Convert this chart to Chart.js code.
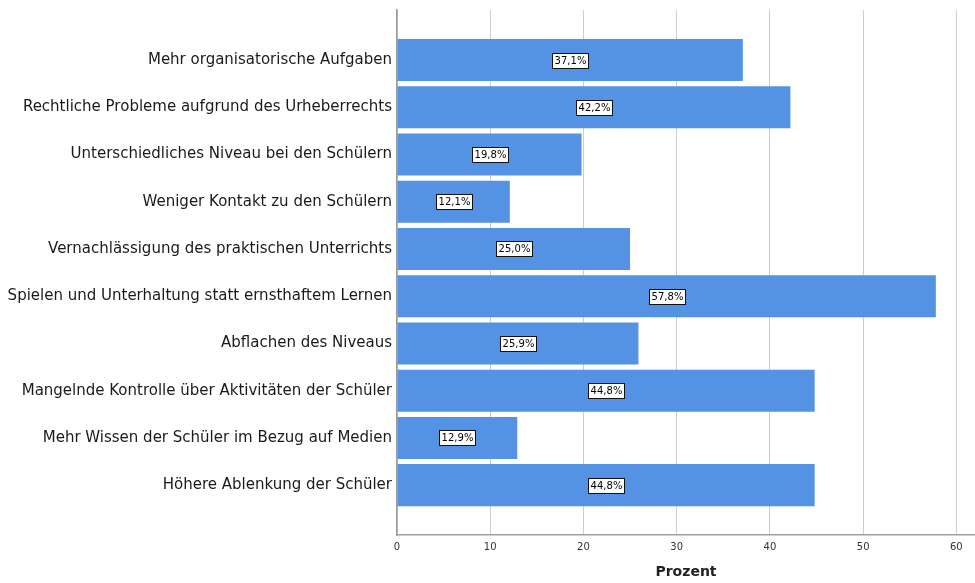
<!DOCTYPE html>
<html>
<head>
<meta charset="utf-8">
<script src="https://cdn.jsdelivr.net/npm/chart.js@4/dist/chart.umd.min.js"></script>
<style>
  html, body { margin: 0; padding: 0; background: #fff; }
  #wrap { width: 975px; height: 583px; }
</style>
</head>
<body>
<div id="wrap"><canvas id="grafik"></canvas></div>
<script>
// Daten aus der Vorlage
const kategorien = [
    'Mehr organisatorische Aufgaben',
    'Rechtliche Probleme aufgrund des Urheberrechts',
    'Unterschiedliches Niveau bei den Schülern',
    'Weniger Kontakt zu den Schülern',
    'Vernachlässigung des praktischen Unterrichts',
    'Spielen und Unterhaltung statt ernsthaftem Lernen',
    'Abflachen des Niveaus',
    'Mangelnde Kontrolle über Aktivitäten der Schüler',
    'Mehr Wissen der Schüler im Bezug auf Medien',
    'Höhere Ablenkung der Schüler'
];
const prozent = [37.1, 42.2, 19.8, 12.1, 25.0, 57.8, 25.9, 44.8, 12.9, 44.8];
const xTicks = [0, 10, 20, 30, 40, 50, 60];

const BALKEN_FARBE = '#5493e3';

// Wertebeschriftung: weisses Kästchen mit schwarzem Rahmen in der Balkenmitte
const wertLabels = {
    id: 'wertLabels',
    afterDatasetsDraw(chart) {
        const ctx = chart.ctx;
        const meta = chart.getDatasetMeta(0);
        ctx.save();
        ctx.font = '10px "DejaVu Sans"';
        ctx.textAlign = 'center';
        ctx.textBaseline = 'middle';
        meta.data.forEach((bar, i) => {
            const { x, y, base } = bar.getProps(['x', 'y', 'base'], true);
            const cx = (x + base) / 2;
            const txt = prozent[i].toFixed(1).replace('.', ',') + '%';
            const w = Math.round(ctx.measureText(txt).width + 4);
            const h = 15;
            const left = Math.round(cx - w / 2);
            const top = Math.round(y - h / 2);
            ctx.fillStyle = '#fff';
            ctx.fillRect(left, top, w, h);
            ctx.strokeStyle = '#111';
            ctx.lineWidth = 1;
            ctx.strokeRect(left + 0.5, top + 0.5, w, h);
            ctx.fillStyle = '#000';
            ctx.fillText(txt, left + w / 2 + 0.5, top + h / 2 + 1);
        });
        ctx.restore();
    }
};

const ctx = document.getElementById('grafik').getContext('2d');
new Chart(ctx, {
    type: 'bar',
    data: {
        datasets: [{
            data: prozent.map((v, i) => ({ x: v, y: i })),
            backgroundColor: BALKEN_FARBE,
            borderWidth: 0,
            categoryPercentage: 1,
            barPercentage: 0.89
        }]
    },
    options: {
        indexAxis: 'y',
        responsive: true,
        maintainAspectRatio: false,
        animation: false,
        layout: {
            padding: { top: 10, left: 0, right: 0, bottom: 0 }
        },
        plugins: {
            legend: { display: false },
            tooltip: { enabled: false }
        },
        scales: {
            x: {
                type: 'linear',
                min: 0,
                max: 62,
                afterBuildTicks: (s) => {
                    s.ticks = xTicks.map(v => ({ value: v }));
                },
                afterFit: (s) => {
                    s.paddingLeft = 0;
                    s.paddingRight = 0;
                },
                grid: {
                    color: '#cdcdcd',
                    lineWidth: 1,
                    drawTicks: false
                },
                border: {
                    display: true,
                    color: '#a0a0a0',
                    width: 1.5
                },
                ticks: {
                    padding: 6,
                    color: '#333',
                    font: { family: 'DejaVu Sans', size: 10 }
                },
                title: {
                    display: true,
                    text: 'Prozent',
                    color: '#222',
                    padding: { top: 5, bottom: 2 },
                    font: { family: 'DejaVu Sans', size: 14, weight: 'bold' }
                }
            },
            y: {
                type: 'linear',
                reverse: true,
                offset: false,
                min: -1.06,
                max: 10.06,
                afterBuildTicks: (s) => {
                    s.ticks = kategorien.map((_, i) => ({ value: i }));
                },
                afterFit: (s) => {
                    s.width = 397;
                    s.paddingTop = 0;
                    s.paddingBottom = 0;
                },
                grid: {
                    offset: false,
                    drawOnChartArea: false,
                    drawTicks: false
                },
                border: {
                    display: true,
                    color: '#9a9a9a',
                    width: 1.5
                },
                ticks: {
                    autoSkip: false,
                    padding: 5,
                    color: '#1a1a1a',
                    font: { family: 'DejaVu Sans', size: 15 },
                    callback: (v) => kategorien[v] ?? ''
                }
            }
        }
    },
    plugins: [wertLabels]
});
</script>
</body>
</html>
